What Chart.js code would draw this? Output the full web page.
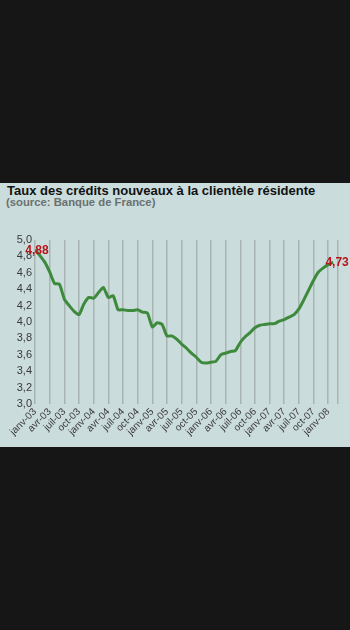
<!DOCTYPE html>
<html>
<head>
<meta charset="utf-8">
<script src="https://cdn.jsdelivr.net/npm/chart.js@4/dist/chart.umd.min.js"></script>
<style>
    body { margin: 0; width: 350px; height: 630px; overflow: hidden; background: #161616; font-family: "Liberation Sans", Arial, sans-serif; }
    #panel { position: absolute; left: 0; top: 183px; width: 350px; height: 264px; background: #cadcdb; }
    #title { position: absolute; left: 7px; top: 184px; font-size: 13px; line-height: 13px; font-weight: bold; color: #111; white-space: nowrap; }
    #source { position: absolute; left: 6px; top: 197px; font-size: 11.3px; line-height: 11.3px; font-weight: bold; color: #6b7171; white-space: nowrap; }
    #wrap { position: absolute; left: 0; top: 215px; width: 350px; height: 232px; }
</style>
</head>
<body>
<div id="panel"></div>
<div id="title">Taux des crédits nouveaux à la clientèle résidente</div>
<div id="source">(source: Banque de France)</div>
<div id="wrap"><canvas id="rateChart" width="350" height="232"></canvas></div>
<script>
// monthly rates, janv-03 .. févr-08
const rates = [
    4.88, 4.81, 4.73, 4.61, 4.47, 4.46, 4.28, 4.20, 4.13, 4.09, 4.22, 4.30,
    4.29, 4.36, 4.42, 4.30, 4.32, 4.15, 4.15, 4.14, 4.14, 4.15, 4.12, 4.11,
    3.94, 3.99, 3.97, 3.83, 3.83, 3.79, 3.73, 3.68, 3.62, 3.57, 3.51, 3.50,
    3.51, 3.52, 3.60, 3.62, 3.64, 3.65, 3.75, 3.82, 3.87, 3.93, 3.96, 3.97,
    3.98, 3.98, 4.01, 4.03, 4.06, 4.09, 4.16, 4.27, 4.39, 4.51, 4.61, 4.66,
    4.70, 4.73
];

// one label every three months
const quarterLabels = [
    'janv-03', 'avr-03', 'juil-03', 'oct-03',
    'janv-04', 'avr-04', 'juil-04', 'oct-04',
    'janv-05', 'avr-05', 'juil-05', 'oct-05',
    'janv-06', 'avr-06', 'juil-06', 'oct-06',
    'janv-07', 'avr-07', 'juil-07', 'oct-07',
    'janv-08'
];

const monthCount = 62; // axis runs up to mars-08
const fontFamily = '"Liberation Sans", Arial, sans-serif';

function frNum(v) {
    return v.toFixed(1).replace('.', ',');
}

// red value labels on first and last point
const endLabels = {
    id: 'endLabels',
    afterDatasetsDraw(chart) {
        const meta = chart.getDatasetMeta(0);
        const ctx = chart.ctx;
        ctx.save();
        ctx.font = 'bold 12px ' + fontFamily;
        ctx.fillStyle = '#b8141c';
        ctx.textAlign = 'center';
        ctx.textBaseline = 'middle';
        const first = meta.data[0];
        const last = meta.data[meta.data.length - 1];
        ctx.fillText(rates[0].toFixed(2).replace('.', ','), first.x + 2, first.y + 1);
        ctx.fillText(rates[rates.length - 1].toFixed(2).replace('.', ','), last.x + 4, last.y + 1);
        ctx.restore();
    }
};

const ctx = document.getElementById('rateChart').getContext('2d');
new Chart(ctx, {
    type: 'line',
    data: {
        datasets: [{
            data: rates.map((v, i) => ({ x: i, y: v })),
            borderColor: '#3d8a3c',
            borderWidth: 3,
            pointRadius: 0,
            tension: 0.2,
            fill: false
        }]
    },
    options: {
        responsive: false,
        devicePixelRatio: 1,
        animation: false,
        layout: { padding: { top: 25, right: 12, left: 0, bottom: 0 } },
        plugins: {
            legend: { display: false },
            tooltip: { enabled: false }
        },
        scales: {
            x: {
                type: 'linear',
                min: 0,
                max: monthCount,
                afterBuildTicks: (axis) => {
                    axis.ticks = quarterLabels.map((l, i) => ({ value: i * 3 }));
                    axis.ticks.push({ value: monthCount });
                },
                afterFit: (axis) => { axis.height = 43; },
                border: { display: false },
                grid: {
                    color: 'rgba(140,150,145,0.55)',
                    lineWidth: 1.5,
                    drawTicks: false
                },
                ticks: {
                    autoSkip: false,
                    maxRotation: 45,
                    minRotation: 45,
                    padding: 2,
                    color: '#3a3a3a',
                    font: { family: fontFamily, size: 10 },
                    callback: (v) => (v % 3 === 0 && quarterLabels[v / 3]) ? quarterLabels[v / 3] : ''
                }
            },
            y: {
                min: 3,
                max: 5,
                afterFit: (axis) => { axis.width = 35; },
                border: { display: false },
                grid: { display: false, drawTicks: false },
                ticks: {
                    stepSize: 0.2,
                    padding: 3,
                    color: '#3a3a3a',
                    font: { family: fontFamily, size: 11 },
                    callback: (v) => frNum(v)
                }
            }
        }
    },
    plugins: [endLabels]
});
</script>
</body>
</html>
